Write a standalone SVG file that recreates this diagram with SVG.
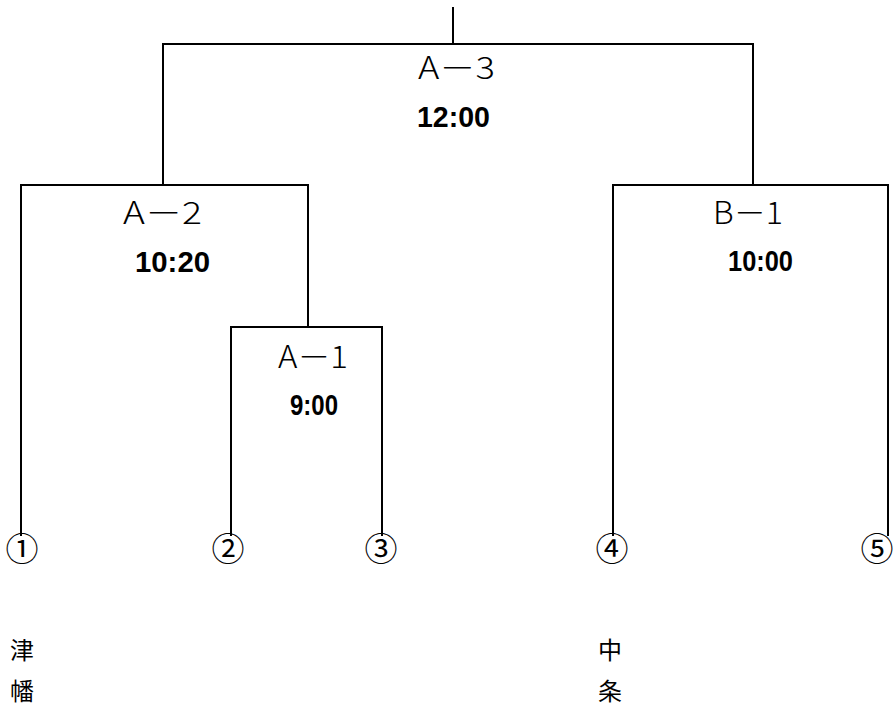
<svg xmlns="http://www.w3.org/2000/svg" width="894" height="706" viewBox="0 0 894 706">
<style>
.ln{stroke:#000;stroke-width:2;fill:none;stroke-linecap:square}
.lab{font-family:"Noto Sans CJK JP","Liberation Sans",sans-serif;font-size:31px;font-weight:300;fill:#000}
.tm{font-family:"Liberation Sans","Noto Sans CJK JP",sans-serif;font-size:30px;font-weight:bold;fill:#000}
.num{font-family:"Noto Sans CJK JP",sans-serif;font-size:33px;font-weight:400;fill:#000;text-anchor:middle}
.nm{font-family:"Noto Sans CJK JP",sans-serif;font-size:24px;fill:#000}
</style>
<rect width="894" height="706" fill="#fff"/>
<g id="connectors">
<path class="ln" d="M453,8V44M163,44H753M163,44V185M753,44V185"/>
<path class="ln" d="M21,185H308M21,185V535M308,185V327"/>
<path class="ln" d="M231,327H382M231,327V535M382,327V535"/>
<path class="ln" d="M613,185H888M613,185V535M888,185V535"/>
</g>
<g id="A3"><text class="lab" x="418" y="79" textLength="77" lengthAdjust="spacingAndGlyphs">A－3</text><text class="tm" x="417" y="127" textLength="73" lengthAdjust="spacingAndGlyphs">12:00</text></g>
<g id="A2"><text class="lab" x="123" y="224" textLength="79" lengthAdjust="spacingAndGlyphs">A－2</text><text class="tm" x="135" y="272" textLength="75" lengthAdjust="spacingAndGlyphs">10:20</text></g>
<g id="A1"><text class="lab" x="278" y="368" textLength="70" lengthAdjust="spacingAndGlyphs">A－1</text><text class="tm" x="290" y="415" textLength="48" lengthAdjust="spacingAndGlyphs">9:00</text></g>
<g id="B1"><text class="lab" x="713" y="224" textLength="70" lengthAdjust="spacingAndGlyphs">B－1</text><text class="tm" x="728" y="271" textLength="65" lengthAdjust="spacingAndGlyphs">10:00</text></g>
<g id="team1"><text class="num" x="22" y="561">①</text><text class="nm" x="10" y="659">津</text><text class="nm" x="10" y="700">幡</text></g>
<g id="team2"><text class="num" x="228" y="561">②</text></g>
<g id="team3"><text class="num" x="381" y="561">③</text></g>
<g id="team4"><text class="num" x="612" y="561">④</text><text class="nm" x="598" y="659">中</text><text class="nm" x="598" y="700">条</text></g>
<g id="team5"><text class="num" x="877" y="561">⑤</text></g>
</svg>
